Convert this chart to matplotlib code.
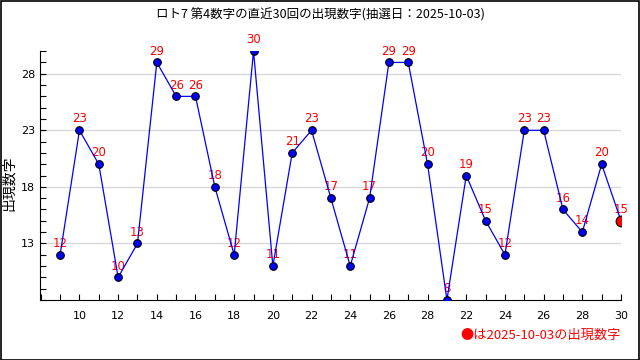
import matplotlib
matplotlib.use("Agg")
import matplotlib.pyplot as plt
from matplotlib.ticker import MultipleLocator, FixedLocator, FixedFormatter

plt.rcParams['font.family'] = ['Noto Sans CJK JP', 'DejaVu Sans']

# 直近30回の第4数字
values = [12, 23, 20, 10, 13, 29, 26, 26, 18, 12, 30, 11, 21, 23, 17,
          11, 17, 29, 29, 20, 8, 19, 15, 12, 23, 23, 16, 14, 20, 15]
tick_labels = ['10', '12', '14', '16', '18', '20', '22', '24', '26', '28',
               '22', '24', '26', '28', '30']
draw_date = '2025-10-03'

x = list(range(len(values)))

fig = plt.figure(figsize=(6.4, 3.6), dpi=100)
ax = fig.add_axes([0.0625, 0.1667, 0.9078, 0.6913])

# 枠線
fig.patches.append(plt.Rectangle((0.001, 0.001), 0.997, 0.997, transform=fig.transFigure,
                                 fill=False, edgecolor='black', linewidth=1.2))

ax.plot(x, values, color='blue', linewidth=0.9, zorder=2)
ax.scatter(x[:-1], values[:-1], s=30, color='blue', edgecolors='black', linewidths=0.8, zorder=3)
ax.scatter(x[-1:], values[-1:], s=60, color='red', edgecolors='black', linewidths=0.8, zorder=4)

for xi, v in zip(x, values):
    ax.annotate(str(v), (xi, v), xytext=(0, 3.5), textcoords='offset points',
                ha='center', va='bottom', color='red', fontsize=8.5, family='DejaVu Sans',
                zorder=1)

ax.set_xlim(-1.04, 29)
ax.set_ylim(8, 30)

ax.xaxis.set_major_locator(FixedLocator(x[1::2]))
ax.xaxis.set_major_formatter(FixedFormatter(tick_labels))
ax.xaxis.set_minor_locator(MultipleLocator(1))
ax.yaxis.set_major_locator(FixedLocator([13, 18, 23, 28]))
ax.yaxis.set_minor_locator(MultipleLocator(1))

ax.tick_params(axis='both', which='both', direction='in', labelsize=8, length=4, width=0.8)
ax.tick_params(axis='x', which='both', direction='in', pad=8)
for lab in ax.get_xticklabels() + ax.get_yticklabels():
    lab.set_family('DejaVu Sans')

ax.grid(axis='y', which='major', color='#d8d8d8', linewidth=1)
ax.set_axisbelow(True)
for s in ['top', 'right']:
    ax.spines[s].set_visible(False)

fig.text(0.014, 0.49, '出現数字', rotation=90, ha='center', va='center', fontsize=10)
fig.text(0.5, 0.958, 'ロト7 第4数字の直近30回の出現数字(抽選日：' + draw_date + ')',
         ha='center', va='center', fontsize=9)
fig.text(0.97, 0.068, '●は' + draw_date + 'の出現数字', ha='right', va='center',
         color='red', fontsize=9.5)

fig.savefig('out.png', dpi=100)
